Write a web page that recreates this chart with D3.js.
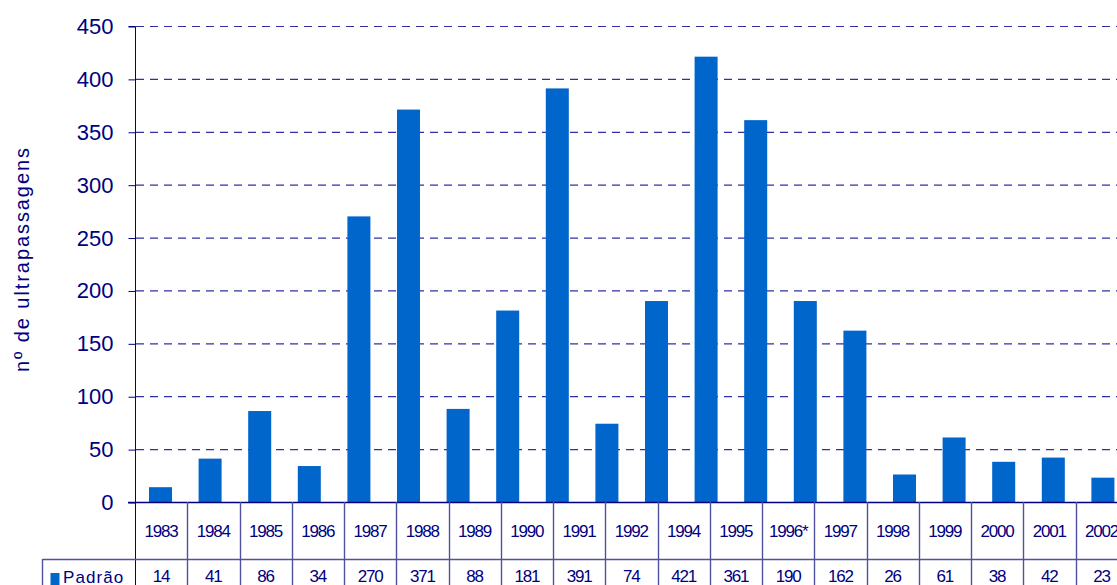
<!DOCTYPE html>
<html><head><meta charset="utf-8">
<script src="https://cdn.jsdelivr.net/npm/d3@7/dist/d3.min.js"></script>
<style>body{margin:0;background:#fff;}svg{display:block;}</style>
</head><body>
<script>
// table columns (as printed in the data table)
const categories = ["1983","1984","1985","1986","1987","1988","1989","1990","1991","1992","1994","1995","1996*","1997","1998","1999","2000","2001","2002"];
const values = [14,41,86,34,270,371,88,181,391,74,421,361,190,162,26,61,38,42,23];
// bars as drawn in the plot (the plot shows 20 bars, one more than the table)
const barSlots = ["1983","1984","1985","1986","1987","1988","1989","1990","1991","1992","1993","1994","1995","1996*","1997","1998","1999","2000","2001","2002"];
const barValues = [14,41,86,34,270,371,88,181,391,74,190,421,361,190,162,26,61,38,42,23];
const yTicks = [0,50,100,150,200,250,300,350,400,450];
const seriesName = "Padrão";
const yLabel = "nº de ultrapassagens";

const W = 1117, H = 585;
const navy = "#000080", barColor = "#0066CC", lineC = "#5050A0";
const font = "Liberation Sans, Arial, sans-serif";
const svg = d3.select("body").append("svg").attr("width", W).attr("height", H);

const x0 = 135;
const barStep = 49.6, cellStep = 52.25;
const xb = d3.scaleBand().domain(barSlots).range([x0 + 0.7, x0 + 0.7 + barStep * barSlots.length]).paddingInner(0.536).paddingOuter(0.268);
const xCell = d3.scaleBand().domain(categories).range([x0, x0 + cellStep * categories.length]);
const y = d3.scaleLinear().domain([0, 450]).range([502, 26]);

// gridlines
svg.append("g").selectAll("line").data(yTicks.filter(d => d > 0)).join("line")
  .attr("x1", x0 + 1).attr("x2", W).attr("y1", d => y(d) + 0.5).attr("y2", d => y(d) + 0.5)
  .attr("stroke", "#3030a0").attr("stroke-width", 1.2).attr("stroke-dasharray", "8,6");

// bars
svg.append("g").selectAll("rect").data(barValues).join("rect")
  .attr("x", (d, i) => xb(barSlots[i])).attr("width", xb.bandwidth())
  .attr("y", d => y(d)).attr("height", d => y(0) - y(d)).attr("fill", barColor);

// y axis
const yAxis = d3.axisLeft(y).tickValues(yTicks).tickSize(7).tickPadding(15);
const ga = svg.append("g").attr("transform", `translate(${x0 + 0.5},0.5)`).call(yAxis);
ga.select(".domain").attr("stroke", navy).attr("d", `M-7,${y(450)}H0V${y(0)}`);
ga.selectAll(".tick line").attr("stroke", navy);
ga.selectAll(".tick text").attr("fill", navy).style("font-family", font).style("font-size", "22px");
// axis line continuing through table
svg.append("line").attr("x1", x0 + 0.5).attr("x2", x0 + 0.5).attr("y1", y(0)).attr("y2", H).attr("stroke", navy);

// zero line
svg.append("line").attr("x1", x0 - 7).attr("x2", W).attr("y1", y(0) + 0.5).attr("y2", y(0) + 0.5).attr("stroke", navy).attr("stroke-width", 1.4);

// y label
svg.append("text").attr("transform", `translate(29,${260}) rotate(-90)`).attr("text-anchor", "middle")
  .attr("fill", navy).style("font-family", font).style("font-size", "20px")
  .attr("textLength", 224).attr("lengthAdjust", "spacing").text(yLabel);

// table
const rowTop = 502, rowMid = 559;
const tbl = svg.append("g");
tbl.selectAll("line.v").data(categories.slice(1)).join("line").attr("class", "v")
  .attr("x1", d => Math.round(xCell(d)) + 0.5).attr("x2", d => Math.round(xCell(d)) + 0.5)
  .attr("y1", rowTop).attr("y2", H).attr("stroke", lineC).attr("stroke-width", 1.4);
tbl.append("line").attr("x1", 42.5).attr("x2", W).attr("y1", rowMid + 0.5).attr("y2", rowMid + 0.5).attr("stroke", lineC).attr("stroke-width", 1.4);
tbl.append("line").attr("x1", 42.5).attr("x2", 42.5).attr("y1", rowMid).attr("y2", H).attr("stroke", lineC).attr("stroke-width", 1.4);

tbl.selectAll("text.yr").data(categories).join("text").attr("class", "yr")
  .attr("x", d => xCell(d) + xCell.bandwidth() / 2).attr("y", 536.5).attr("text-anchor", "middle")
  .attr("fill", navy).style("font-family", font).style("font-size", "17px").style("letter-spacing", "-1.2px")
  .text(d => d);
tbl.selectAll("text.val").data(values).join("text").attr("class", "val")
  .attr("x", (d, i) => xCell(categories[i]) + xCell.bandwidth() / 2).attr("y", 582).attr("text-anchor", "middle")
  .attr("fill", navy).style("font-family", font).style("font-size", "17px").style("letter-spacing", "-1.2px")
  .text(d => d);
// legend key
tbl.append("rect").attr("x", 50.5).attr("y", 573).attr("width", 9).attr("height", 12).attr("fill", barColor);
tbl.append("text").attr("x", 63).attr("y", 583).attr("fill", navy)
  .style("font-family", font).style("font-size", "17px").style("letter-spacing", "1.1px").text(seriesName);
</script>
</body></html>
